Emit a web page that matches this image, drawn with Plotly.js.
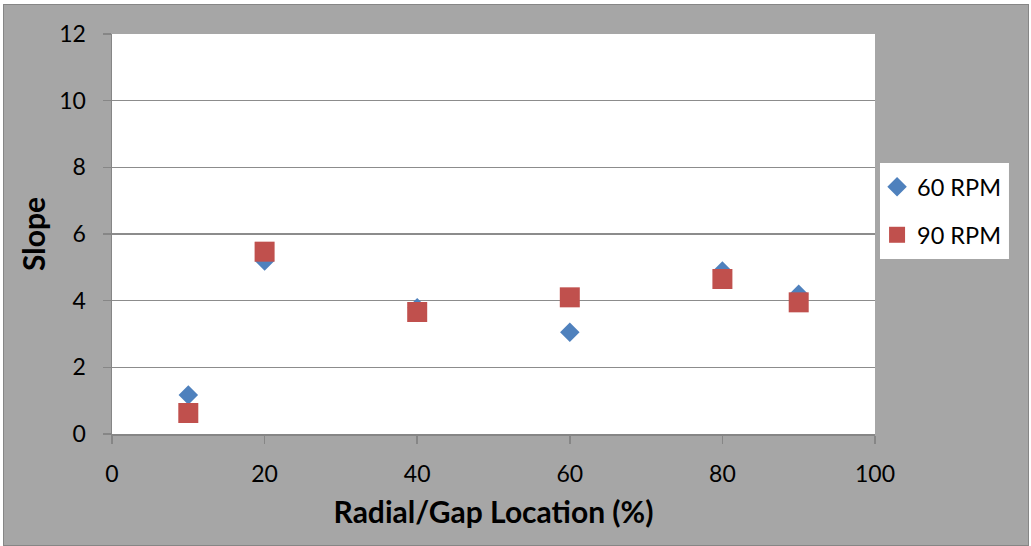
<!DOCTYPE html>
<html>
<head>
<meta charset="utf-8">
<script src="https://cdn.plot.ly/plotly-3.0.1.min.js"></script>
<style>
  html, body { margin: 0; padding: 0; background: #ffffff; }
  #chart { position: absolute; left: 4px; top: 5px; width: 1024px; height: 540px; outline: 1px solid #868686; }
</style>
</head>
<body>
<div id="chart"></div>
<script>
// Data
const locations = [10, 20, 40, 60, 80, 90];          // Radial/Gap Location (%)
const slope60rpm = [1.17, 5.19, 3.79, 3.05, 4.89, 4.19];
const slope90rpm = [0.63, 5.47, 3.66, 4.10, 4.65, 3.95];
const seriesNames = ['60 RPM', '90 RPM'];
const xTickVals = [0, 20, 40, 60, 80, 100];
const yTickVals = [0, 2, 4, 6, 8, 10, 12];

const FONT = 'Lato, "Open Sans", sans-serif';

const traces = [
  {
    x: locations, y: slope60rpm, name: seriesNames[0],
    type: 'scatter', mode: 'markers',
    marker: { symbol: 'diamond', size: 15, color: '#4f81bd', line: { width: 0 } },
    legend: 'legend'
  },
  {
    x: locations, y: slope90rpm, name: seriesNames[1],
    type: 'scatter', mode: 'markers',
    marker: { symbol: 'square', size: 20, color: '#c0504d', line: { width: 0 } },
    legend: 'legend2'
  }
];

const layout = {
  width: 1024, height: 540,
  margin: { l: 108, r: 153, t: 29, b: 111 },
  paper_bgcolor: '#a6a6a6',
  plot_bgcolor: '#ffffff',
  font: { family: FONT, color: '#000000', size: 23 },
  showlegend: true,
  xaxis: {
    range: [0, 100], tickvals: xTickVals, ticktext: xTickVals.map(String),
    showgrid: false, zeroline: false,
    showline: true, linecolor: '#868686', linewidth: 1.5,
    ticks: 'outside', ticklen: 8, tickcolor: '#868686', tickwidth: 1.5,
    tickfont: { family: FONT, size: 23, color: '#000000' },
    ticklabelstandoff: 11,
    automargin: false,
    title: { text: 'Radial/Gap Location (%)', font: { family: FONT, size: 30, weight: 'bold', color: '#000000' }, standoff: 16 }
  },
  yaxis: {
    range: [0, 12], tickvals: yTickVals, ticktext: yTickVals.map(String),
    showgrid: true, gridcolor: '#8c8c8c', gridwidth: 1.5,
    zeroline: false,
    showline: true, linecolor: '#868686', linewidth: 1.5,
    ticks: 'outside', ticklen: 8, tickcolor: '#868686', tickwidth: 1.5,
    tickfont: { family: FONT, size: 23, color: '#000000' },
    ticklabelstandoff: 12,
    automargin: false,
    title: { text: 'Slope', font: { family: FONT, size: 30, weight: 'bold', color: '#000000' }, standoff: 4 }
  },
  shapes: [
    { type: 'rect', xref: 'paper', yref: 'paper', layer: 'above',
      x0: 1.00655, x1: 1.1756, y0: 0.4375, y1: 0.6775,
      fillcolor: '#ffffff', line: { width: 0 } }
  ],
  legend: {
    x: 1.0027, y: 0.6175, xanchor: 'left', yanchor: 'middle',
    bgcolor: 'rgba(0,0,0,0)', borderwidth: 0,
    font: { family: FONT, size: 23.5, color: '#000000' }
  },
  legend2: {
    x: 1.0027, y: 0.4975, xanchor: 'left', yanchor: 'middle',
    bgcolor: 'rgba(0,0,0,0)', borderwidth: 0,
    font: { family: FONT, size: 23.5, color: '#000000' }
  }
};

Plotly.newPlot('chart', traces, layout, { displayModeBar: false, staticPlot: true });
</script>
</body>
</html>
